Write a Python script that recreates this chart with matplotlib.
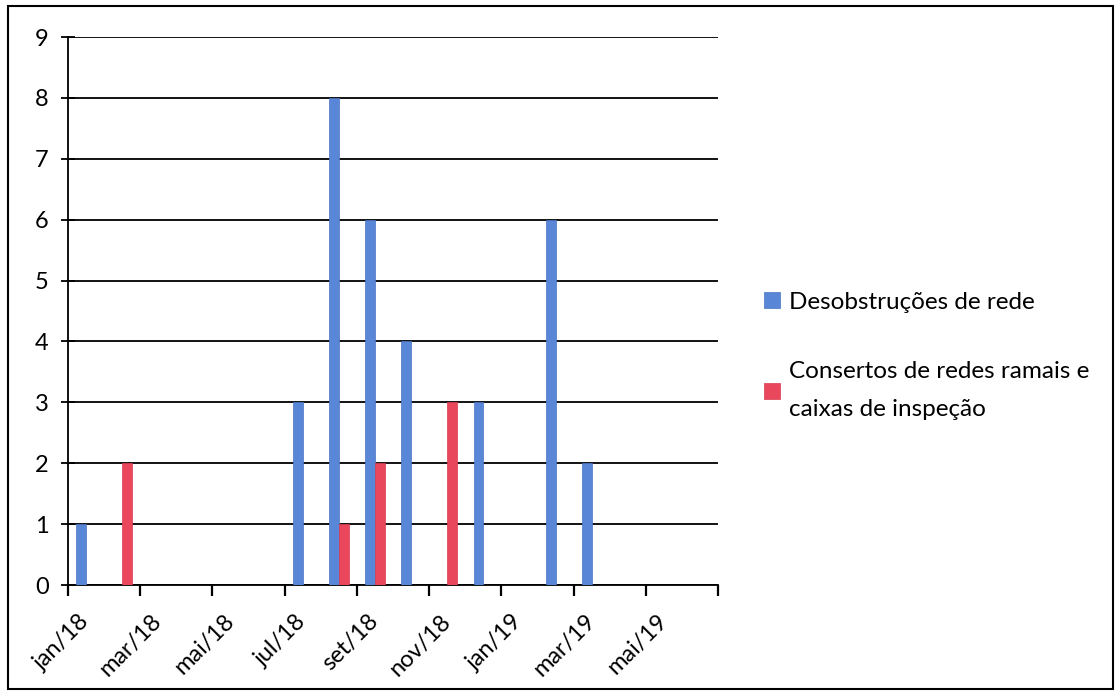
import numpy as np
import matplotlib.pyplot as plt
import matplotlib.transforms as mtransforms
from matplotlib.patches import Rectangle

# Dados mensais (jan/18 a jun/19)
meses = ['jan/18', 'fev/18', 'mar/18', 'abr/18', 'mai/18', 'jun/18',
         'jul/18', 'ago/18', 'set/18', 'out/18', 'nov/18', 'dez/18',
         'jan/19', 'fev/19', 'mar/19', 'abr/19', 'mai/19', 'jun/19']
desobstrucoes = [1, 0, 0, 0, 0, 0, 3, 8, 6, 4, 0, 3, 0, 6, 2, 0, 0, 0]
consertos = [0, 2, 0, 0, 0, 0, 0, 1, 2, 0, 3, 0, 0, 0, 0, 0, 0, 0]

# Rótulos do eixo x (a cada 2 meses)
rotulos_x = ['jan/18', 'mar/18', 'mai/18', 'jul/18', 'set/18', 'nov/18',
             'jan/19', 'mar/19', 'mai/19', '']

cor_azul = '#5a86d8'
cor_vermelho = '#e8475c'
plt.rcParams['font.family'] = ['Lato', 'DejaVu Sans']

fig = plt.figure(figsize=(11.19, 6.95), dpi=100)
ax = fig.add_axes([68 / 1119, 1 - 585 / 695, (718 - 68) / 1119, (585 - 37) / 695])

x = np.arange(len(meses))
largura = 0.27
ax.bar(x + 0.5 - largura / 2, desobstrucoes, largura, color=cor_azul,
       edgecolor='#4a74c4', linewidth=0.5, label='Desobstruções de rede', zorder=3)
ax.bar(x + 0.5 + largura / 2, consertos, largura, color=cor_vermelho,
       edgecolor='#d83a50', linewidth=0.5,
       label='Consertos de redes ramais e\ncaixas de inspeção', zorder=3)

ax.set_xlim(0, len(meses))
ax.set_ylim(0, 9)
ax.set_yticks(range(0, 10))
posicoes = np.arange(0, len(meses) + 1, 2)
ax.set_xticks(posicoes)
ax.set_xticklabels([])

# Rótulos girados 45° deslocados para baixo/direita, como no Excel
trans = ax.get_xaxis_transform() + mtransforms.ScaledTranslation(0.18, -0.33, fig.dpi_scale_trans)
for pos, rot in zip(posicoes, rotulos_x):
    ax.text(pos, 0, rot, transform=trans, rotation=45, ha='right', va='center',
            rotation_mode='anchor', fontsize=17)

ax.tick_params(axis='y', labelsize=17, length=10, width=1.3, direction='inout', pad=9)
ax.tick_params(axis='x', length=8, width=1.6)

ax.yaxis.grid(True, color='black', linewidth=1.3, zorder=0)
for s in ['top', 'right']:
    ax.spines[s].set_visible(False)
ax.spines['left'].set_linewidth(1.3)
ax.spines['bottom'].set_linewidth(1.3)

leg = fig.legend(loc='upper left', bbox_to_anchor=(742 / 1119, 1 - 270 / 695),
                 frameon=False, fontsize=17.5, handlelength=0.65, handleheight=0.65,
                 handletextpad=0.4, labelspacing=2.0)
for t in leg.get_texts():
    t.set_linespacing(2.0)

# Moldura externa do gráfico
fig.patches.append(Rectangle((8 / 1119, 6 / 695), 1105 / 1119, 683 / 695,
                             transform=fig.transFigure, fill=False,
                             edgecolor='black', linewidth=1.5))

fig.savefig('out.png', dpi=100)
